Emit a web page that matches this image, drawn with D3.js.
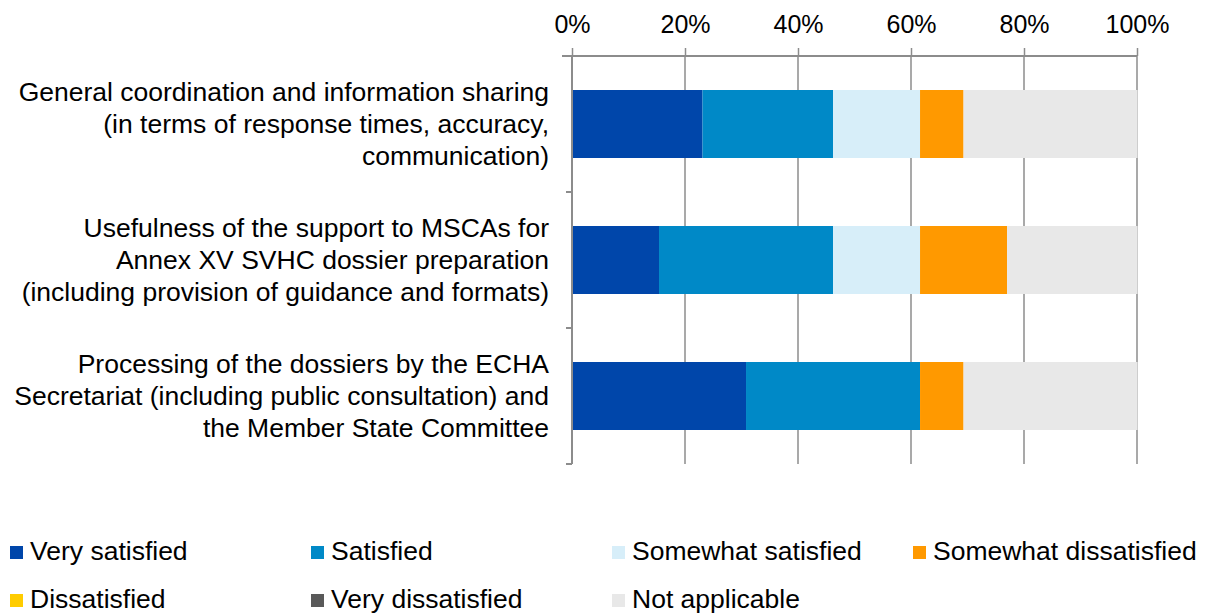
<!DOCTYPE html>
<html>
<head>
<meta charset="utf-8">
<script src="https://cdn.jsdelivr.net/npm/d3@7"></script>
<style>
  body { margin: 0; background: #fff; }
  text { font-family: "Liberation Sans", Arial, sans-serif; fill: #000; }
</style>
</head>
<body>
<svg id="chart" width="1205" height="615"></svg>
<script>
// questions, one line per label row
const questions = [
    ["General coordination and information sharing", "(in terms of response times, accuracy,", "communication)"],
    ["Usefulness of the support to MSCAs for", "Annex XV SVHC dossier preparation", "(including provision of guidance and formats)"],
    ["Processing of the dossiers by the ECHA", "Secretariat (including public consultation) and", "the Member State Committee"]
];
const answers = ["Very satisfied", "Satisfied", "Somewhat satisfied", "Somewhat dissatisfied",
    "Dissatisfied", "Very dissatisfied", "Not applicable"];
const colors = ["#0046aa", "#0089c7", "#d7eef9", "#ff9900", "#ffcc00", "#595959", "#e8e8e8"];

// shares in %, per answer, one value per question
const verySatisfied = [23.1, 15.4, 30.8];
const satisfied = [23.1, 30.8, 30.8];
const somewhatSatisfied = [15.4, 15.4, 0];
const somewhatDissatisfied = [7.7, 15.4, 7.7];
const dissatisfied = [0, 0, 0];
const veryDissatisfied = [0, 0, 0];
const notApplicable = [30.8, 23.1, 30.8];
const xTicks = [0, 20, 40, 60, 80, 100];

const series = [verySatisfied, satisfied, somewhatSatisfied, somewhatDissatisfied,
    dissatisfied, veryDissatisfied, notApplicable];

const table = questions.map((q, i) => {
    const row = { key: i };
    answers.forEach((a, j) => { row[a] = series[j][i]; });
    return row;
});

const svg = d3.select("#chart");
const margin = { top: 56, left: 572, right: 68, bottom: 151 };
const width = 1205 - margin.left - margin.right;
const height = 615 - margin.top - margin.bottom;

const g = svg.append("g").attr("transform", `translate(${margin.left},${margin.top})`);

const x = d3.scaleLinear().domain([0, 100]).range([0, width]);
const y = d3.scaleBand().domain(questions.map((q, i) => i)).range([0, height]).paddingInner(0.5).paddingOuter(0.25);
const yEdge = d3.scaleLinear().domain([0, questions.length]).range([0, height]);

// vertical gridlines
g.append("g").selectAll("line").data(xTicks).join("line")
    .attr("x1", d => x(d)).attr("x2", d => x(d))
    .attr("y1", 0).attr("y2", height)
    .attr("stroke", "#8c8c8c").attr("stroke-width", 1.5);

// stacked bars
const stacked = d3.stack().keys(answers)(table);
g.append("g").selectAll("g").data(stacked).join("g")
    .attr("fill", (d, i) => colors[i])
    .selectAll("rect").data(d => d).join("rect")
    .attr("x", d => x(d[0]))
    .attr("width", d => x(d[1]) - x(d[0]))
    .attr("y", (d, i) => y(i))
    .attr("height", y.bandwidth());

// top axis
const xAxis = g.append("g")
    .call(d3.axisTop(x).tickValues(xTicks).tickFormat(d => d + "%").tickSize(8).tickSizeOuter(0));
xAxis.select(".domain").attr("stroke", "#8c8c8c").attr("stroke-width", 2)
    .attr("d", `M-10,0H${width}`);
xAxis.selectAll(".tick line").attr("stroke", "#8c8c8c").attr("stroke-width", 1.5);
xAxis.selectAll(".tick text").attr("font-size", 25).attr("y", -23).attr("dy", 0)
    .style("font-family", "'Liberation Sans', Arial, sans-serif").attr("fill", "#000");

// left axis with ticks at category boundaries
const yAxis = g.append("g");
yAxis.append("line").attr("x1", 0).attr("x2", 0).attr("y1", 0).attr("y2", height)
    .attr("stroke", "#8c8c8c").attr("stroke-width", 2);
yAxis.selectAll("line.tk").data(d3.range(questions.length + 1)).join("line")
    .attr("class", "tk")
    .attr("x1", -6).attr("x2", 0)
    .attr("y1", d => yEdge(d)).attr("y2", d => yEdge(d))
    .attr("stroke", "#8c8c8c").attr("stroke-width", 2);

// category labels
const lineH = 32;
g.append("g").selectAll("text").data(questions).join("text")
    .attr("text-anchor", "end")
    .attr("font-size", 26.5)
    .attr("x", -23)
    .attr("y", (d, i) => y(i) + y.bandwidth() / 2)
    .selectAll("tspan").data(d => d).join("tspan")
    .attr("x", -23)
    .attr("dy", (d, j, n) => j === 0 ? (-(n.length - 1) / 2 * lineH + 9) : lineH)
    .text(d => d);

// legend
const legend = svg.append("g");
const cols = [10, 311, 612, 913];
const item = legend.selectAll("g").data(answers).join("g")
    .attr("transform", (d, i) => `translate(${cols[i % 4]},${i < 4 ? 560 : 608})`);
item.append("rect").attr("x", 0).attr("y", -14).attr("width", 13).attr("height", 13)
    .attr("fill", (d, i) => colors[i]);
item.append("text").attr("x", 20).attr("y", 0).attr("font-size", 26.5).text(d => d);
</script>
</body>
</html>
